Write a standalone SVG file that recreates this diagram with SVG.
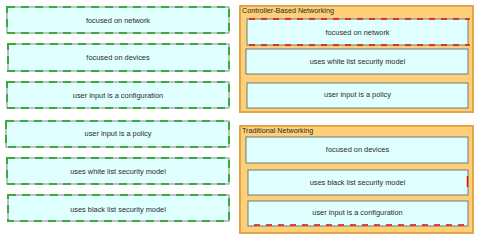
<svg xmlns="http://www.w3.org/2000/svg" width="477" height="240" viewBox="0 0 477 240">
<style>
.box{fill:#e0ffff;stroke:#8a8a8a;stroke-width:1}
.g{fill:none;stroke:#3aaa3a;stroke-width:2;stroke-dasharray:8 6}
.r{fill:none;stroke:#e01010;stroke-width:1.5;stroke-dasharray:6 6}
.panel{fill:#fdcf78;stroke:#e0a548;stroke-width:2}
.ib{fill:#e0ffff;stroke:#6f7a7a;stroke-width:1}
.t{font-family:"Liberation Sans",Arial,sans-serif;font-size:7.4px;fill:#2a2a2a;text-anchor:middle}
.h{font-family:"Liberation Sans",Arial,sans-serif;font-size:7.2px;fill:#2a2a2a}
</style>
<rect width="477" height="240" fill="#ffffff"/>
<g id="left1"><rect class="box" x="7" y="7" width="222" height="26"/><rect class="g" x="7" y="7" width="222" height="26"/><text class="t" x="118" y="22.5">focused on network</text></g>
<g id="left2"><rect class="box" x="8" y="44" width="221" height="27"/><rect class="g" x="8" y="44" width="221" height="27"/><text class="t" x="118" y="60">focused on devices</text></g>
<g id="left3"><rect class="box" x="7" y="82" width="222" height="26"/><rect class="g" x="7" y="82" width="222" height="26"/><text class="t" x="118" y="98">user input is a configuration</text></g>
<g id="left4"><rect class="box" x="6" y="121" width="223" height="26"/><rect class="g" x="6" y="121" width="223" height="26"/><text class="t" x="118" y="136">user input is a policy</text></g>
<g id="left5"><rect class="box" x="7" y="158" width="222" height="26"/><rect class="g" x="7" y="158" width="222" height="26"/><text class="t" x="118" y="174">uses white list security model</text></g>
<g id="left6"><rect class="box" x="8" y="195" width="221" height="26"/><rect class="g" x="8" y="195" width="221" height="26"/><text class="t" x="118" y="212">uses black list security model</text></g>
<g id="controller">
<rect class="panel" x="240" y="6" width="233" height="106"/>
<text class="h" x="242" y="13">Controller-Based Networking</text>
<g id="c1"><rect class="ib" x="247" y="19" width="221" height="26"/><line class="r" x1="249" y1="19" x2="470" y2="19"/><line class="r" x1="249" y1="45" x2="470" y2="45"/><text class="t" x="357.5" y="34.5">focused on network</text></g>
<g id="c2"><rect class="ib" x="246" y="49" width="222" height="25"/><text class="t" x="357.5" y="63.5">uses white list security model</text></g>
<g id="c3"><rect class="ib" x="247" y="83" width="221" height="25"/><text class="t" x="357.5" y="97">user input is a policy</text></g>
</g>
<g id="traditional">
<rect class="panel" x="240" y="126" width="233" height="107"/>
<text class="h" x="242" y="133">Traditional Networking</text>
<g id="t1"><rect class="ib" x="246" y="137" width="222" height="26"/><text class="t" x="357.5" y="152">focused on devices</text></g>
<g id="t2"><rect class="ib" x="248" y="170" width="220" height="25"/><line x1="467.5" y1="176" x2="467.5" y2="187" stroke="#e01010" stroke-width="1.5"/><text class="t" x="357.5" y="185">uses black list security model</text></g>
<g id="t3"><rect class="ib" x="248" y="201" width="220" height="25"/><line class="r" x1="254" y1="225" x2="466" y2="225"/><text class="t" x="357.5" y="215">user input is a configuration</text></g>
</g>
</svg>
